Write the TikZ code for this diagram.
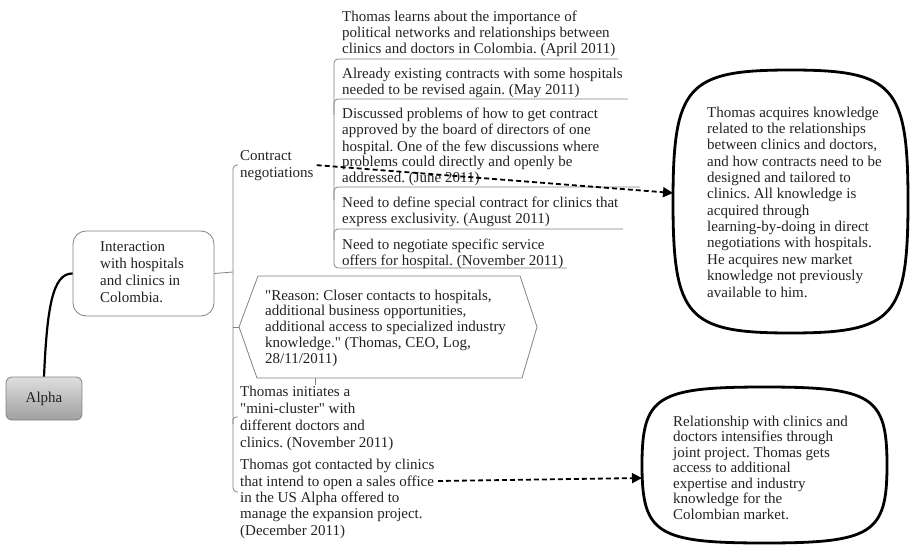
\documentclass[tikz,border=0pt]{standalone}
\usepackage{fontspec}
\setmainfont{Liberation Serif}
\usetikzlibrary{arrows.meta}
\frenchspacing
\definecolor{txtc}{RGB}{34,34,34}
\definecolor{linec}{RGB}{130,130,130}
\definecolor{alphatop}{RGB}{222,222,222}
\definecolor{alphabot}{RGB}{160,160,160}
% straight double quote, set as a glyph so the TeX ligature mapping leaves it alone
\newcommand\dq{\XeTeXglyph\XeTeXcharglyph"22\relax}
\tikzset{
  % multi-line texts are placed by the baseline of their last line
  txt/.style={inner sep=0pt, anchor=base west, align=left, text=txtc},
  lead/.style={font=\fontsize{15}{#1}\selectfont},
  gl/.style={draw=linec, line width=0.8pt},
  blob/.style={draw=black, line width=2.8pt, line join=round},
  knowarrow/.style={draw=black, line width=1.8pt, dash pattern=on 5pt off 3pt,
    -{Triangle[length=10pt,width=10pt]}},
}
% rounded "squircle" outline: centre x, centre y, half width, half height
\newcommand\blobshape[4]{%
  \draw[blob] ({#1-#3},{#2})
    .. controls ({#1-#3},{#2-0.88*#4}) and ({#1-0.88*#3},{#2-#4}) .. ({#1},{#2-#4})
    .. controls ({#1+0.88*#3},{#2-#4}) and ({#1+#3},{#2-0.88*#4}) .. ({#1+#3},{#2})
    .. controls ({#1+#3},{#2+0.88*#4}) and ({#1+0.88*#3},{#2+#4}) .. ({#1},{#2+#4})
    .. controls ({#1-0.88*#3},{#2+#4}) and ({#1-#3},{#2+0.88*#4}) .. cycle;}
\begin{document}
\begin{tikzpicture}[x=1pt,y=-1pt]
\useasboundingbox (0,0) rectangle (910,548);

% root and first-level node
\node[draw=linec, line width=0.8pt, rounded corners=6pt, top color=alphatop, bottom color=alphabot,
      minimum width=76pt, minimum height=43pt, text=txtc, lead=16, inner sep=0pt]
      (alpha) at (44,398.5) {Alpha};
\node[draw=linec, line width=0.8pt, rounded corners=13pt, fill=white,
      minimum width=141pt, minimum height=85pt, inner sep=0pt] (inter) at (143.5,273.5) {};
\node[txt, lead=16.7] (intertxt) at (100,302) {Interaction\\with hospitals\\and clinics in\\Colombia.};
\draw[black, line width=2.2pt] (alpha.north) .. controls (47,310) and (52,273) .. (inter.west);

% trunk of the activity branch
\coordinate (trk) at (233,272);
\draw[gl] (inter.east) -- (trk);
\draw[gl, rounded corners=4pt] (238,165) -- (233,165) -- (233,492) -- (238,492);
\draw[gl, rounded corners=3pt] (233,424) -- (233,417) -- (238,417);

% contract negotiations and its events
\node[txt, lead=17] (cn) at (240,178) {Contract\\negotiations};
\draw[gl, rounded corners=4pt] (618,59) -- (334,59) -- (334,268) -- (567,268);
\draw[gl, rounded corners=4pt] (628,99) -- (334,99) -- (334,115);
\draw[gl, rounded corners=4pt] (640,187) -- (334,187) -- (334,200);
\draw[gl, rounded corners=4pt] (623,229) -- (334,229) -- (334,240);
\node[txt, lead=16] (ev1) at (342,54) {Thomas learns about the importance of\\political networks and relationships between\\clinics and doctors in Colombia. (April 2011)};
\node[txt, lead=16] (ev2) at (342,95) {Already existing contracts with some hospitals\\needed to be revised again. (May 2011)};
\node[txt, lead=16] (ev3) at (342,183) {Discussed problems of how to get contract\\approved by the board of directors of one\\hospital. One of the few discussions where\\problems could directly and openly be\\addressed. (June 2011)};
\node[txt, lead=16] (ev4) at (342,223) {Need to define special contract for clinics that\\express exclusivity. (August 2011)};
\node[txt, lead=16] (ev5) at (342,265) {Need to negotiate specific service\\offers for hospital. (November 2011)};

% quotation
\coordinate (hexw) at (239,327);
\draw[gl] (233,327) -- (hexw);
\draw[gl, fill=white] (hexw) -- (258,276) -- (520,276) -- (537,327) -- (522,378) -- (257,378) -- cycle;
\node[txt, lead=15.75] (quote) at (265,363) {\dq Reason: Closer contacts to hospitals,\\additional business opportunities,\\additional access to specialized industry\\knowledge.\dq{} (Thomas, CEO, Log,\\28/11/2011)};
\coordinate (hexs) at (315,378);
\coordinate (minin) at (315,385);
\draw[gl] (hexs) -- (minin);

% later events
\node[txt, lead=16.7] (mini) at (240,447) {Thomas initiates a\\\dq mini-cluster\dq{} with\\different doctors and\\clinics. (November 2011)};
\node[txt, lead=16.3] (got) at (240,535) {Thomas got contacted by clinics\\that intend to open a sales office\\in the US Alpha offered to\\manage the expansion project.\\(December 2011)};

% knowledge outcomes
\blobshape{790.5}{201.5}{117.5}{131.5}
\coordinate (k1w) at (673,193);
\node[txt, lead=16.36] (k1) at (707,297) {Thomas acquires knowledge\\related to the relationships\\between clinics and doctors,\\and how contracts need to be\\designed and tailored to\\clinics. All knowledge is\\acquired through\\learning-by-doing in direct\\negotiations with hospitals.\\He acquires new market\\knowledge not previously\\available to him.};

\blobshape{764.5}{465}{122.5}{78}
\coordinate (k2w) at (642,478);
\node[txt, lead=15.5] (k2) at (673,519) {Relationship with clinics and\\doctors intensifies through\\joint project. Thomas gets\\access to additional\\expertise and industry\\knowledge for the\\Colombian market.};

% learning links
\draw[knowarrow] ([xshift=3pt,yshift=1pt]cn.east) -- (k1w);
\coordinate (a2s) at (438,481);
\draw[knowarrow] (a2s) -- (k2w);
\end{tikzpicture}
\end{document}
